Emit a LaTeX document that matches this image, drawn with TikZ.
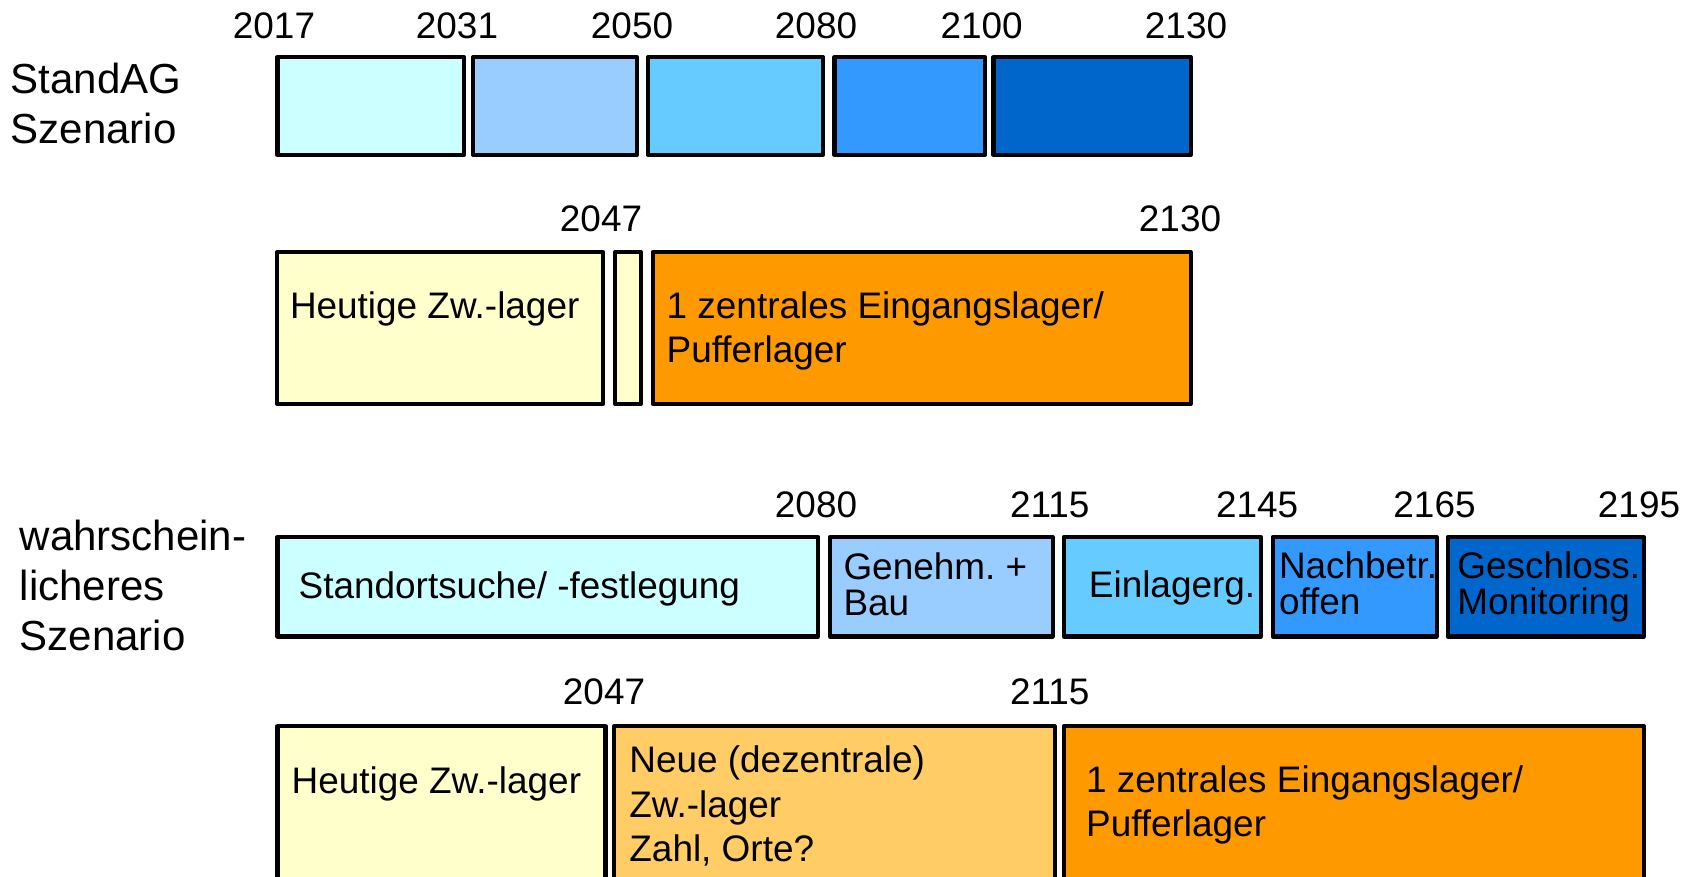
\documentclass[tikz,border=0pt]{standalone}
\usepackage{fontspec}
\setmainfont{Liberation Sans}
\usetikzlibrary{calc}
\frenchspacing

\definecolor{zyan}{HTML}{CCFFFF}
\definecolor{hellblau}{HTML}{99CCFF}
\definecolor{mittelblau}{HTML}{66CCFF}
\definecolor{blau}{HTML}{3399FF}
\definecolor{dunkelblau}{HTML}{0066CC}
\definecolor{hellgelb}{HTML}{FFFFCC}
\definecolor{orange}{HTML}{FF9900}
\definecolor{hellorange}{HTML}{FFCC66}

\tikzset{
  phase/.style={draw=black, line width=1.15pt, line join=round},
  jahr/.style={anchor=base, inner sep=0pt, font=\fontsize{10.5}{12.6}\selectfont},
  txt/.style={anchor=base west, inner sep=0pt, align=left, font=\fontsize{10.5}{12.66}\selectfont},
  eng/.style={font=\fontsize{10.5}{10.16}\selectfont},
  szen/.style={anchor=base west, inner sep=0pt, align=left, font=\fontsize{11.95}{14.08}\selectfont}
}

\begin{document}
\begin{tikzpicture}[x=0.01cm, y=-0.01cm]
        \useasboundingbox (0,0) rectangle (1695,877);
        \clip (0,0) rectangle (1695,877);

        % StandAG Szenario (Grundlinie = letzte Zeile)
        \node[szen] (standag) at (10,143.5) {StandAG\\Szenario};
        \draw[phase, fill=zyan] (277.5,57) rectangle (464,155);
        \draw[phase, fill=hellblau] (473,57) rectangle (637,155);
        \draw[phase, fill=mittelblau] (648,57) rectangle (823,155);
        \draw[phase, fill=blau] (834.5,57) rectangle (985,155);
        \draw[phase, fill=dunkelblau] (993.5,57) rectangle (1190.5,155);
        \node[jahr] (a2017) at (274,39) {2017};
        \node[jahr] (a2031) at (457,39) {2031};
        \node[jahr] (a2050) at (632,39) {2050};
        \node[jahr] (a2080) at (816,39) {2080};
        \node[jahr] (a2100) at (981.7,39) {2100};
        \node[jahr] (a2130) at (1186,39) {2130};

        % Zwischenlager (StandAG)
        \draw[phase, fill=hellgelb] (277,252) rectangle (603.3,404);
        \draw[phase, fill=hellgelb] (615.3,252) rectangle (640.8,404);
        \draw[phase, fill=orange] (652.7,252) rectangle (1190.6,404);
        \node[jahr] (b2047) at (601,232) {2047};
        \node[jahr] (b2130) at (1180,232) {2130};
        \node[txt] (heute1) at (289.3,318.3) {Heutige Zw.-lager};
        \node[txt] (zentral1) at (666,363) {1 zentrales Eingangslager/\\Pufferlager};

        % wahrscheinlicheres Szenario
        \node[szen] (wahr) at (19,650) {wahrschein-\\licheres\\Szenario};
        \draw[phase, fill=zyan] (277.5,537) rectangle (818.4,636.5);
        \draw[phase, fill=hellblau] (829.8,537) rectangle (1052.5,636.5);
        \draw[phase, fill=mittelblau] (1063.7,537) rectangle (1261,636.5);
        \draw[phase, fill=blau] (1272.5,537) rectangle (1436.5,636.5);
        \draw[phase, fill=dunkelblau] (1447.5,537) rectangle (1644,636.5);
        \node[jahr] (c2080) at (816,517.5) {2080};
        \node[jahr] (c2115) at (1049.7,517.5) {2115};
        \node[jahr] (c2145) at (1257.2,517.5) {2145};
        \node[jahr] (c2165) at (1434.5,517.5) {2165};
        \node[jahr] (c2195) at (1639,517.5) {2195};
        \node[txt] (suche) at (298,599) {Standortsuche/ -festlegung};
        \node[txt, eng] (bau) at (842.8,615.7) {Genehm. +\\Bau};
        \node[txt] (einlag) at (1088.2,598) {Einlagerg.};
        \node[txt, eng] (nachb) at (1278.3,614) {Nachbetr.\\offen};
        \node[txt, eng] (monit) at (1456.7,614) {Geschloss.\\Monitoring};

        % Zwischenlager (wahrscheinlicher)
        \draw[phase, fill=hellgelb] (277.5,726.3) rectangle (605.5,920);
        \draw[phase, fill=hellorange] (614,726.3) rectangle (1054.5,920);
        \draw[phase, fill=orange] (1063.7,726.3) rectangle (1644,920);
        \node[jahr] (d2047) at (604,705) {2047};
        \node[jahr] (d2115) at (1049.7,705) {2115};
        \node[txt] (heute2) at (291,793.3) {Heutige Zw.-lager};
        \node[txt] (neue) at (628.7,861.7) {Neue (dezentrale)\\Zw.-lager\\Zahl, Orte?};
        \node[txt] (zentral2) at (1085.4,836.7) {1 zentrales Eingangslager/\\Pufferlager};
\end{tikzpicture}
\end{document}
